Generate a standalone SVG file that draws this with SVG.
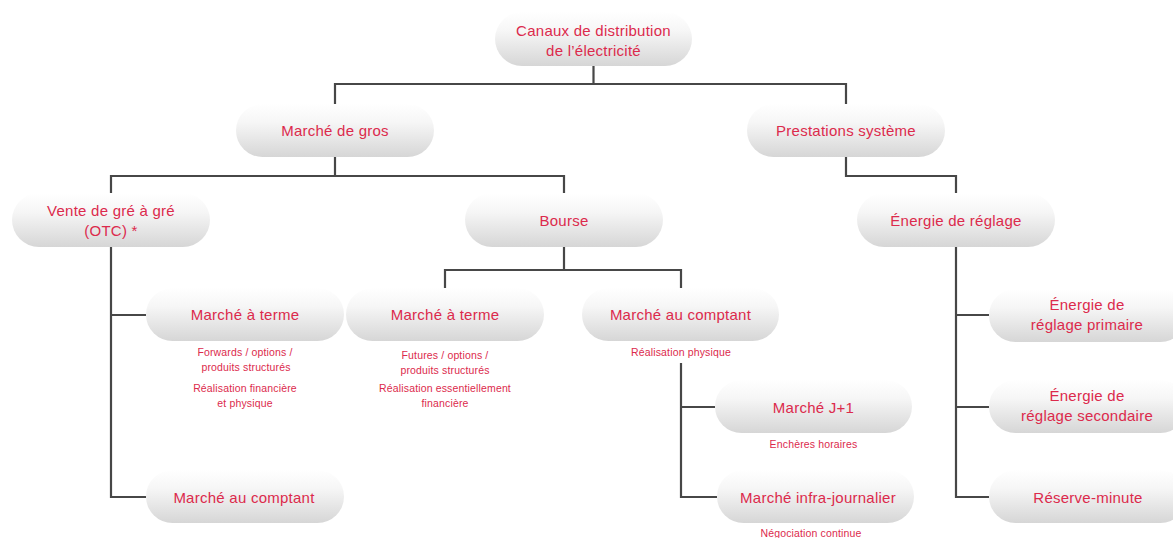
<svg xmlns="http://www.w3.org/2000/svg" width="1173" height="538" viewBox="0 0 1173 538">
  <defs>
    <linearGradient id="pillFill" x1="0" y1="0" x2="0" y2="1">
      <stop offset="0" stop-color="#ffffff"/>
      <stop offset="0.35" stop-color="#f6f6f6"/>
      <stop offset="1" stop-color="#d6d6d6"/>
    </linearGradient>
  </defs>
  <style>
    .pill { fill: url(#pillFill); }
    .label { font-family: "Liberation Sans", Arial, sans-serif; font-size: 15px; fill: #dc2a4c; text-anchor: middle; letter-spacing: 0.25px; }
    .note { font-family: "Liberation Sans", Arial, sans-serif; font-size: 10.5px; fill: #dc2a4c; text-anchor: middle; letter-spacing: 0.15px; }
    .link { fill: none; stroke: #474747; stroke-width: 2.2; }
  </style>

  <rect width="1173" height="538" fill="#ffffff"/>

  <!-- tree connectors (drawn beneath the pills) -->
  <g id="connectors" class="link">
    <path d="M593.5 66 V84 H335 V104 M593.5 84 H846 V104"/>
    <path d="M335 157 V176 H111 V193 M335 176 H564 V193"/>
    <path d="M846 157 V176 H956 V193"/>
    <path d="M111 247 V497 H146 M111 315 H146"/>
    <path d="M564 247 V270 H445 V288 M564 270 H681 V288"/>
    <path d="M681 363 V497 H717 M681 407 H715"/>
    <path d="M956 247 V497 H989 M956 315 H989 M956 407 H989"/>
  </g>

  <g id="canaux">
    <rect class="pill" x="495" y="12" width="197" height="54" rx="27"/>
    <text class="label" x="593.5" y="35.5">Canaux de distribution</text>
    <text class="label" x="593.5" y="55.5">de l’électricité</text>
  </g>

  <g id="marche-gros">
    <rect class="pill" x="236" y="104" width="198" height="53" rx="26.5"/>
    <text class="label" x="335" y="136">Marché de gros</text>
  </g>

  <g id="prestations">
    <rect class="pill" x="747" y="104" width="198" height="53" rx="26.5"/>
    <text class="label" x="846" y="136">Prestations système</text>
  </g>

  <g id="otc">
    <rect class="pill" x="12" y="193" width="198" height="54" rx="27"/>
    <text class="label" x="111" y="215.5">Vente de gré à gré</text>
    <text class="label" x="111" y="235.5">(OTC) *</text>
  </g>

  <g id="bourse">
    <rect class="pill" x="465" y="193" width="198" height="54" rx="27"/>
    <text class="label" x="564" y="226">Bourse</text>
  </g>

  <g id="energie-reglage">
    <rect class="pill" x="857" y="193" width="198" height="54" rx="27"/>
    <text class="label" x="956" y="226">Énergie de réglage</text>
  </g>

  <g id="otc-terme">
    <rect class="pill" x="146" y="288" width="198" height="53" rx="26.5"/>
    <text class="label" x="245" y="320">Marché à terme</text>
    <text class="note" x="245" y="356">Forwards / options /</text>
    <text class="note" x="246" y="371">produits structurés</text>
    <text class="note" x="245" y="392">Réalisation financière</text>
    <text class="note" x="245" y="407">et physique</text>
  </g>

  <g id="otc-comptant">
    <rect class="pill" x="146" y="470" width="198" height="53" rx="26.5"/>
    <text class="label" x="244" y="502.5">Marché au comptant</text>
  </g>

  <g id="bourse-terme">
    <rect class="pill" x="346" y="288" width="198" height="53" rx="26.5"/>
    <text class="label" x="445" y="320">Marché à terme</text>
    <text class="note" x="445" y="359">Futures / options /</text>
    <text class="note" x="445" y="374">produits structurés</text>
    <text class="note" x="445" y="392">Réalisation essentiellement</text>
    <text class="note" x="445" y="407">financière</text>
  </g>

  <g id="bourse-comptant">
    <rect class="pill" x="582" y="288" width="197" height="53" rx="26.5"/>
    <text class="label" x="680.5" y="320">Marché au comptant</text>
    <text class="note" x="681" y="355.5">Réalisation physique</text>
  </g>

  <g id="marche-j1">
    <rect class="pill" x="715" y="380" width="197" height="53" rx="26.5"/>
    <text class="label" x="813.5" y="412.5">Marché J+1</text>
    <text class="note" x="813.5" y="447.5">Enchères horaires</text>
  </g>

  <g id="marche-infra">
    <rect class="pill" x="717" y="470" width="197" height="53" rx="26.5"/>
    <text class="label" x="818" y="502.5">Marché infra-journalier</text>
    <text class="note" x="811" y="536.5">Négociation continue</text>
  </g>

  <g id="reglage-primaire">
    <rect class="pill" x="989" y="289" width="198" height="53" rx="26.5"/>
    <text class="label" x="1087" y="310">Énergie de</text>
    <text class="label" x="1087" y="330">réglage primaire</text>
  </g>

  <g id="reglage-secondaire">
    <rect class="pill" x="989" y="380" width="198" height="53" rx="26.5"/>
    <text class="label" x="1087" y="401">Énergie de</text>
    <text class="label" x="1087" y="421">réglage secondaire</text>
  </g>

  <g id="reserve-minute">
    <rect class="pill" x="989" y="470" width="198" height="53" rx="26.5"/>
    <text class="label" x="1088" y="502.5">Réserve-minute</text>
  </g>
</svg>
